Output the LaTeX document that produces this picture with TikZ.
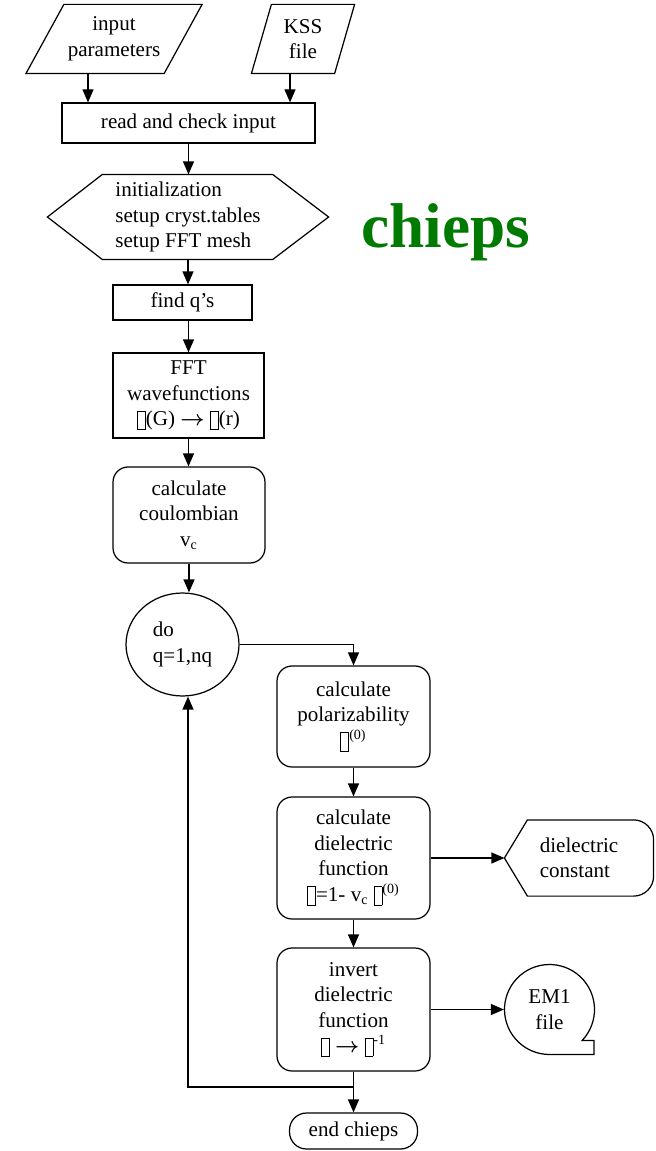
\documentclass[tikz,border=0pt]{standalone}
\usepackage{amsmath}
\usepackage{fontspec}
\setmainfont{Liberation Serif}
\usetikzlibrary{arrows.meta,shapes.geometric}
\definecolor{chigreen}{RGB}{0,122,0}
\newcommand{\tofu}{{\setlength{\fboxsep}{0pt}\setlength{\fboxrule}{0.5pt}\raisebox{-2pt}{\fbox{\rule{0pt}{10pt}\hspace{4pt}}}}}

\begin{document}
\begin{tikzpicture}[x=0.02cm,y=-0.02cm,line width=0.7pt,
  every node/.style={font=\fontsize{12}{14.5}\selectfont,align=center,inner sep=0pt},
  proc/.style={draw,minimum width=3.06cm},
  calcbox/.style={proc,rounded corners=0.3cm},
  arr/.style={-{Triangle[length=0.26cm,width=0.22cm]}}]
\useasboundingbox (0,0) rectangle (655,1151);

\node (inpar) [minimum width=2.74cm,minimum height=1.36cm] at (114,39) {input\\parameters};
\draw ([xshift=0.38cm]inpar.north west) -- ([xshift=0.38cm]inpar.north east)
  -- ([xshift=-0.38cm]inpar.south east) -- ([xshift=-0.38cm]inpar.south west) -- cycle;
\node (kss) [minimum width=1.64cm,minimum height=1.36cm] at (303,39) {KSS\\file};
\draw ([xshift=0.2cm]kss.north west) -- ([xshift=0.2cm]kss.north east)
  -- ([xshift=-0.2cm]kss.south east) -- ([xshift=-0.2cm]kss.south west) -- cycle;

\node (rdchk) [draw,minimum width=5.06cm,minimum height=0.8cm] at (188.5,123) {read and check input};
\draw[arr] ([xshift=-0.52cm]inpar.south) -- ([xshift=-0.52cm]inpar.south |- rdchk.north);
\draw[arr] ([xshift=-0.26cm]kss.south) -- ([xshift=-0.26cm]kss.south |- rdchk.north);

\node (init) [minimum width=5.6cm,minimum height=1.68cm,align=left] at (188,217)
  {initialization\\setup cryst.tables\\setup FFT mesh};
\draw (init.west) -- ([xshift=1.1cm]init.north west) -- ([xshift=-1.12cm]init.north east)
  -- (init.east) -- ([xshift=-1.12cm]init.south east) -- ([xshift=1.1cm]init.south west) -- cycle;
\draw[arr] (rdchk.south) -- (rdchk.south |- init.north);

\node (title) [font=\fontsize{36}{40}\selectfont\bfseries,text=chigreen,anchor=base] at (446,248) {chieps};

\node (findq) [draw,minimum width=2.78cm,minimum height=0.7cm] at (182.5,302.5) {find q’s};
\draw[arr] (init.south) -- (init.south |- findq.north);

\node (fft) [proc,minimum width=3.02cm,minimum height=1.7cm] at (188.5,395.5)
  {FFT\\wavefunctions\\\tofu(G) $\boldsymbol{\rightarrow}$ \tofu(r)};
\draw[arr] (fft.north |- findq.south) -- (fft.north);

\node (coul) [calcbox,minimum width=3.04cm,minimum height=1.92cm] at (189,515)
  {calculate\\coulombian\\v\textsubscript{c}};
\draw[arr] (fft.south) -- (fft.south |- coul.north);

\node (doq) [draw,ellipse,minimum width=2.26cm,minimum height=2.06cm,align=left] at (182.5,644.5)
  {do\\q=1,nq};
\draw[arr] (coul.south) -- (coul.south |- doq.north);

\node (polar) [calcbox,minimum height=2.02cm] at (353.5,716.5)
  {calculate\\polarizability\\\tofu\textsuperscript{(0)}};
\draw[arr] (doq.east) -| (polar.north);

\node (diel) [calcbox,minimum height=2.44cm] at (353.5,858)
  {calculate\\dielectric\\function\\\tofu{}=1- v\textsubscript{c} \tofu\textsuperscript{(0)}};
\draw[arr] (polar) -- (diel);

\node (dconst) [minimum width=2.96cm,minimum height=1.5cm,align=left] at (579,858) {dielectric\\constant};
\draw (dconst.west) -- ([xshift=0.46cm]dconst.north west) -- ([xshift=-0.4cm]dconst.north east)
  arc[start angle=90,end angle=0,radius=0.4cm] -- ([yshift=0.4cm]dconst.south east)
  arc[start angle=0,end angle=-90,radius=0.4cm] -- ([xshift=0.46cm]dconst.south west) -- cycle;
\draw[arr] (diel.east) -- (dconst.west);

\node (inv) [calcbox,minimum height=2.46cm] at (353.5,1009.5)
  {invert\\dielectric\\function\\\tofu{} $\boldsymbol{\rightarrow}$ \tofu\textsuperscript{-1}};
\draw[arr] (diel) -- (inv);

\node (em1) [circle,minimum size=1.8cm] at (549.5,1009.5) {EM1\\file};
\draw ([shift={(-43.6:0.9cm)}]em1.center) arc[start angle=-43.6,end angle=270,radius=0.9cm]
  -- ++(0.89cm,0) -- ++(0,0.28cm) -- cycle;
\draw[arr] (inv.east) -- (em1.west);

\node (endc) [draw,rounded corners=0.34cm,minimum width=2.56cm,minimum height=0.72cm] at (353.5,1131) {end chieps};
\coordinate (join) at (353.5,1087);
\draw (inv.south) -- (join);
\draw[arr] (join) -| ([xshift=0.11cm]doq.south);
\draw[arr] (join) -- (endc.north);
\end{tikzpicture}
\end{document}
